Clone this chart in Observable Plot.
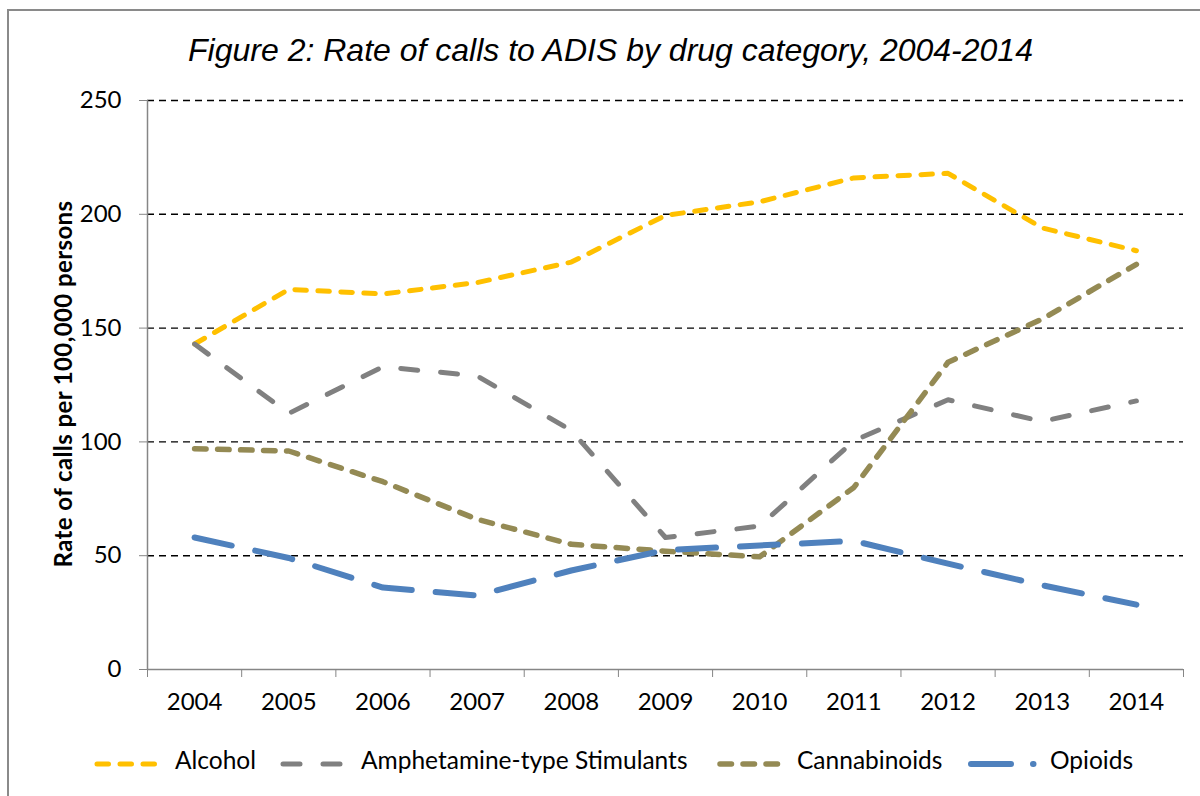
<!DOCTYPE html>
<html>
<head>
<meta charset="utf-8">
<script src="https://cdn.jsdelivr.net/npm/d3@7"></script>
<script src="https://cdn.jsdelivr.net/npm/@observablehq/plot@0.6"></script>
<style>
  html, body { margin: 0; padding: 0; background: #fff; overflow: hidden; }
  #wrap { position: relative; width: 1200px; height: 796px; overflow: hidden; font-family: Lato, "Open Sans", sans-serif; }
  #frame { position: absolute; left: 7px; top: 9px; width: 1300px; height: 900px; border: 2px solid #8a8a8a; box-sizing: border-box; }
  #title { position: absolute; left: 0; width: 1221px; top: 34px; text-align: center; font-family: "Liberation Sans", Arial, sans-serif; font-style: italic; font-size: 32px; line-height: 32px; color: #000; }
  #ytitle { position: absolute; left: 62px; top: 384px; transform: translate(-50%, -50%) rotate(-90deg); white-space: nowrap; font-family: Lato, sans-serif; font-weight: bold; font-size: 24px; letter-spacing: 0.4px; color: #000; }
  #chart { position: absolute; left: 0; top: 0; }
  .legsw { position: absolute; top: 754px; }
  .legtx { position: absolute; top: 745px; line-height: 30px; font-size: 24.5px; color: #000; white-space: nowrap; }
</style>
</head>
<body>
<div id="wrap">
  <div id="frame"></div>
  <div id="chart"></div>
  <div id="title">Figure 2: Rate of calls to ADIS by drug category, 2004-2014</div>
  <div id="ytitle">Rate of calls per 100,000 persons</div>
  <div id="legend"></div>
</div>
<script>
const years = [2004, 2005, 2006, 2007, 2008, 2009, 2010, 2011, 2012, 2013, 2014];
const alcohol      = [143, 167, 165, 170, 179, 199.5, 205.5, 216, 218, 194, 184];
const amphetamines = [143, 112.5, 133, 129, 105, 58, 63, 100.5, 118.5, 109, 118];
const cannabinoids = [97, 96, 82.5, 66, 55, 52, 49.5, 80, 135, 154, 178];
const opioids      = [58, 49, 36, 32.5, 43.5, 52.5, 54.5, 56.5, 46.5, 37, 28.5];
const seriesNames  = ["Alcohol", "Amphetamine-type Stimulants", "Cannabinoids", "Opioids"];
const yTicks = [0, 50, 100, 150, 200, 250];

const seriesValues = [alcohol, amphetamines, cannabinoids, opioids];
const styles = [
  {stroke: "#FFC000", strokeWidth: 5, dash: "11.5,11.5"},
  {stroke: "#808080", strokeWidth: 5, dash: "17,23"},
  {stroke: "#948A54", strokeWidth: 5.5, dash: "11.5,11.5"},
  {stroke: "#4F81BD", strokeWidth: 6, dash: "38,24"}
];

const xDomain = [years[0] - 0.5, years[years.length - 1] + 0.5];
const boundaries = d3.range(years.length + 1).map(i => xDomain[0] + i);

const lineMarks = seriesValues.map((vals, i) => {
  const data = years.map((yr, j) => ({year: yr, value: vals[j], series: seriesNames[i]}));
  return Plot.line(data, {
    x: "year", y: "value",
    stroke: styles[i].stroke, strokeWidth: styles[i].strokeWidth,
    strokeDasharray: styles[i].dash, strokeLinecap: "round", strokeLinejoin: "round"
  });
});

const chart = Plot.plot({
  width: 1200,
  height: 720,
  marginLeft: 147,
  marginRight: 17,
  marginTop: 100,
  marginBottom: 51,
  style: {fontFamily: "Lato, sans-serif", fontSize: "24px", background: "transparent", color: "black"},
  x: {type: "linear", domain: xDomain},
  y: {domain: [0, 250]},
  marks: [
    Plot.gridY(yTicks.filter(d => d > 0), {stroke: "black", strokeOpacity: 1, strokeWidth: 1.4, strokeDasharray: "7,5"}),
    Plot.ruleY([0], {stroke: "#868686", strokeWidth: 1.5}),
    Plot.ruleX([xDomain[0]], {stroke: "#868686", strokeWidth: 1.5}),
    Plot.axisY(yTicks, {tickSize: 8, tickPadding: 18, stroke: "#868686", fill: "black", fontSize: 24, label: null, tickFormat: d => String(d)}),
    Plot.axisX(boundaries, {tickSize: 8, stroke: "#868686", tickFormat: () => "", label: null}),
    Plot.axisX(years, {tickSize: 0, tickPadding: 23, fill: "black", fontSize: 24, label: null, tickFormat: d => String(d)}),
    ...lineMarks
  ]
});
document.getElementById("chart").appendChild(chart);

// legend
const swX = [97, 283, 720, 971];
const txX = [175, 361, 797, 1050];
const legend = document.getElementById("legend");
seriesNames.forEach((name, i) => {
  const s = styles[i];
  const w = i === 3 ? 72 : 63;
  const dash = i === 3 ? "40,22,0.5,22" : s.dash;
  const sw = document.createElement("div");
  sw.className = "legsw";
  sw.style.left = (swX[i] - 3) + "px";
  sw.innerHTML = `<svg width="${w + 6}" height="12"><line x1="3" x2="${w + 3}" y1="6" y2="6" stroke="${s.stroke}" stroke-width="${s.strokeWidth}" stroke-linecap="round" stroke-dasharray="${dash}"/></svg>`;
  legend.appendChild(sw);
  const tx = document.createElement("div");
  tx.className = "legtx";
  tx.style.left = txX[i] + "px";
  tx.textContent = name;
  legend.appendChild(tx);
});
</script>
</body>
</html>
